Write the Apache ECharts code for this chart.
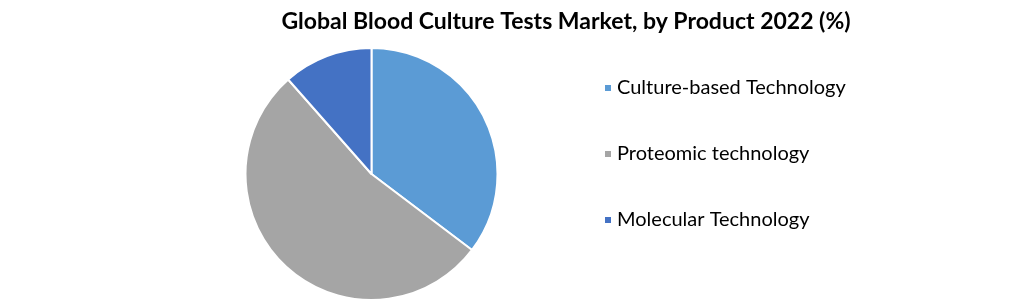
<!DOCTYPE html>
<html>
<head>
<meta charset="utf-8">
<script src="https://cdn.jsdelivr.net/npm/echarts@6/dist/echarts.min.js"></script>
<style>html,body{margin:0;padding:0;background:#fff}#c{width:1020px;height:303px}</style>
</head>
<body>
<div id="c"></div>
<script>
var categories = ['Culture-based Technology', 'Proteomic technology', 'Molecular Technology'];
var values = [35.3, 53.2, 11.5];
var colors = ['#5B9BD5', '#A5A5A5', '#4472C4'];

var chart = echarts.init(document.getElementById('c'));
chart.setOption({
  animation: false,
  title: {
    text: 'Global Blood Culture Tests Market, by Product 2022 (%)',
    left: 561, top: 5, textAlign: 'center',
    textStyle: { fontFamily: 'Lato', fontWeight: 'bold', fontSize: 23, color: '#000' }
  },
  legend: {
    orient: 'vertical', left: 598, top: 73,
    icon: 'rect', itemWidth: 8, itemHeight: 8, itemGap: 46,
    data: categories,
    textStyle: { fontFamily: 'Lato', fontSize: 20, color: '#000', lineHeight: 20 }
  },
  series: [{
    type: 'pie',
    center: [371.5, 174], radius: 126,
    startAngle: 90, clockwise: true,
    label: { show: false }, labelLine: { show: false },
    itemStyle: { borderColor: '#fff', borderWidth: 2 },
    emphasis: { disabled: true },
    data: categories.map(function (n, i) { return { name: n, value: values[i], itemStyle: { color: colors[i] } }; })
  }]
});
</script>
</body>
</html>
